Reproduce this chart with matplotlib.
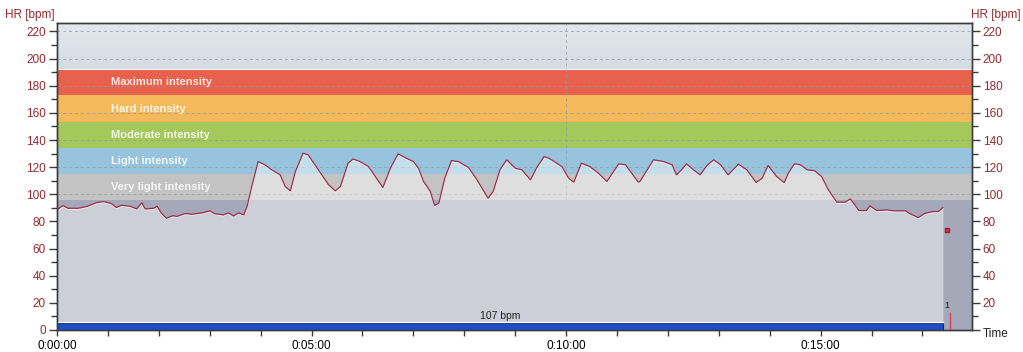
import matplotlib as mpl
import matplotlib.pyplot as plt
import numpy as np
from matplotlib.ticker import FuncFormatter, MultipleLocator


mpl.rcParams.update({
    "font.family": ["Liberation Sans", "DejaVu Sans"],
    "font.size": 8.5,
    "axes.linewidth": 1.0,
})

# heart rate trace (seconds from start, bpm)
TIME_S = [0, 7, 13, 25, 35, 47, 55, 64, 70, 76, 86, 94, 100, 104, 114, 118,
          123, 129, 137, 141, 151, 159, 171, 180, 186, 196, 202, 208, 214, 220,
          224, 230, 237, 245, 253, 263, 269, 275, 281, 290, 296, 308, 320, 328,
          334, 343, 349, 357, 367, 375, 384, 393, 402, 410, 420, 426, 432, 440,
          445, 450, 457, 465, 473, 485, 495, 508, 514, 522, 530, 540, 548, 558,
          565, 574, 581, 595, 603, 609, 618, 628, 638, 648, 662, 670, 685, 687,
          703, 715, 725, 730, 736, 742, 750, 758, 766, 774, 782, 791, 803, 813,
          824, 831, 838, 848, 857, 862, 869, 876, 884, 893, 901, 909, 919, 929,
          935, 945, 954, 958, 966, 978, 986, 1000, 1004, 1015, 1023, 1033, 1039,
          1044]
HR_BPM = [88.5, 91.7, 89.7, 89.7, 91.0, 93.9, 94.6, 93.2, 90.2, 91.9, 91.2,
          89.2, 93.7, 89.2, 89.7, 91.2, 86.0, 82.3, 84.3, 83.6, 85.8, 85.3, 86.3,
          87.8, 85.6, 84.8, 86.3, 84.0, 86.3, 84.8, 91.0, 107.0, 124.1, 121.7,
          118.0, 114.3, 105.7, 102.5, 116.8, 130.3, 129.0, 118.0, 107.0, 102.5,
          105.7, 122.9, 126.0, 124.1, 120.4, 113.1, 105.0, 119.2, 129.8, 127.1,
          124.1, 119.2, 109.4, 102.0, 91.7, 93.4, 111.8, 124.9, 124.1, 119.7,
          110.6, 97.1, 102.0, 118.0, 125.4, 119.2, 118.0, 110.6, 119.2, 127.8,
          126.1, 120.4, 111.8, 108.9, 122.9, 120.4, 115.6, 109.4, 122.4, 121.7,
          108.9, 109.4, 125.4, 124.1, 121.7, 114.3, 118.0, 122.4, 118.0, 114.3,
          121.2, 125.4, 121.7, 114.3, 122.2, 118.0, 108.6, 111.8, 121.2, 113.1,
          108.6, 115.6, 122.4, 121.7, 118.0, 117.3, 113.1, 103.3, 94.2, 94.2,
          96.6, 88.0, 88.0, 91.5, 88.0, 88.5, 87.8, 87.8, 86.0, 82.8, 86.0, 87.3,
          87.3, 90.2]

ZONE_NAMES = ["Very light intensity", "Light intensity", "Moderate intensity",
              "Hard intensity", "Maximum intensity"]
ZONE_LOW = [96.0, 115.2, 134.4, 153.6, 172.8]
ZONE_HIGH = [115.2, 134.4, 153.6, 172.8, 192.0]

AVG_HR = 107
LAP_TIMES = [1052]
LAP_NAMES = ["1"]
LAP_MARK_HR = [74]

T_MAX = 1078
Y_MAX = 226

ZONE_COLORS = ["#c3c3c3", "#97c4dc", "#a5c85c", "#f3b95b", "#e8614d"]
BELOW_ZONES = "#a4a8b9"
HR_RED = "#9a2c48"
TICK_RED = "#922a30"
AXIS_DARK = "#3c3c3c"


def hms(s, _pos=None):
    s = int(round(s))
    return f"{s // 3600}:{s % 3600 // 60:02d}:{s % 60:02d}"


def style_y(axis, side):
    axis.set_ylim(0, Y_MAX)
    axis.yaxis.set_major_locator(MultipleLocator(20))
    axis.yaxis.set_minor_locator(MultipleLocator(10))
    axis.tick_params(axis="y", which="major", direction="out", length=5.5, width=1,
                     color=AXIS_DARK, labelsize=8.5, labelcolor=TICK_RED, pad=2.5)
    axis.tick_params(axis="y", which="minor", direction="out", length=4, width=1,
                     color=AXIS_DARK)
    if side == "right":
        # right side leaves the 0 unlabeled (the "Time" caption sits there)
        axis.yaxis.set_major_formatter(FuncFormatter(lambda v, _p: "" if v == 0 else f"{v:.0f}"))


def make_figure():
    fig = plt.figure(figsize=(10.23, 3.52), dpi=100)
    ax = fig.add_axes([57 / 1023, 22 / 352, 914.7 / 1023, 306.7 / 352])
    ax.set_xlim(0, T_MAX)
    ax.set_ylim(0, Y_MAX)

    # backgrounds: soft gradient above the zones, zone bands, grey below
    grad = np.linspace(0, 1, 64).reshape(-1, 1)
    top_cmap = mpl.colors.LinearSegmentedColormap.from_list("top", ["#d4dce4", "#e3e8ed"])
    ax.imshow(grad, cmap=top_cmap, origin="lower", aspect="auto",
              extent=(0, T_MAX, ZONE_HIGH[-1], Y_MAX), zorder=0)
    ax.axhspan(0, ZONE_LOW[0], color=BELOW_ZONES, lw=0, zorder=0)
    for lo, hi, c in zip(ZONE_LOW, ZONE_HIGH, ZONE_COLORS):
        ax.axhspan(lo, hi, color=c, lw=0, zorder=0)
    ax.axhline(ZONE_HIGH[-1], color="#f4f4f4", lw=0.8, zorder=0.5)

    # dashed grid, only visible over the zone area
    for v in range(100, Y_MAX, 20):
        ax.axhline(v, color="#8f9aa6", lw=0.7, ls=(0, (3, 3)), alpha=0.75, zorder=1)
    ax.vlines(600, ZONE_LOW[0], Y_MAX, color="#8f9aa6", lw=0.7, ls=(0, (3, 3)),
              alpha=0.75, zorder=1)

    for name, lo, hi in zip(ZONE_NAMES, ZONE_LOW, ZONE_HIGH):
        ax.text(64, (lo + hi) / 2, name, ha="left", va="center", fontsize=8,
                fontweight="bold", color="white", alpha=0.85, zorder=2)

    # heart rate area + line
    ax.fill_between(TIME_S, 0, HR_BPM, color="white", alpha=0.45, lw=0, zorder=2)
    ax.plot(TIME_S, np.array(HR_BPM) - 0.6, color="white", lw=1.0, alpha=0.7, zorder=3)
    ax.plot(TIME_S, HR_BPM, color=HR_RED, lw=0.9, zorder=4)

    # average bar along the bottom
    ax.broken_barh([(0, TIME_S[-1])], (0, 4.9), facecolors="#1f4fc2",
                   edgecolors="#0e2a78", lw=0.8, zorder=5)
    ax.plot([0, TIME_S[-1]], [5.6, 5.6], color="white", lw=0.9, zorder=5)
    ax.text(TIME_S[-1] / 2, 6.5, f"{AVG_HR} bpm", ha="center", va="bottom",
            fontsize=7.5, color="#222222", zorder=5)

    # lap markers
    for t, name, hr in zip(LAP_TIMES, LAP_NAMES, LAP_MARK_HR):
        ax.vlines(t, 0, 13, color="#d04050", lw=0.9, zorder=5)
        ax.text(t - 3, 15, name, ha="center", va="bottom", fontsize=6.5, color="#222222")
        ax.plot(t - 3, hr, marker="s", ms=3.5, color="#d8304a", mec="#a02030", zorder=5)

    # axes
    ax.xaxis.set_major_locator(MultipleLocator(300))
    ax.xaxis.set_minor_locator(MultipleLocator(60))
    ax.xaxis.set_major_formatter(FuncFormatter(hms))
    ax.tick_params(axis="x", which="both", direction="out", length=4.5, width=1,
                   color=AXIS_DARK, labelsize=8.5, pad=2.5)
    style_y(ax, "left")

    ax_r = ax.twinx()
    style_y(ax_r, "right")

    for a in (ax, ax_r):
        for sp in a.spines.values():
            sp.set_color(AXIS_DARK)

    fig.text(5 / 1023, 1 - 15 / 352, "HR [bpm]", ha="left", va="center",
             fontsize=8.5, color=TICK_RED)
    fig.text(1021 / 1023, 1 - 15 / 352, "HR [bpm]", ha="right", va="center",
             fontsize=8.5, color=TICK_RED)
    fig.text(983 / 1023, 1 - 334 / 352, "Time", ha="left", va="center",
             fontsize=8.5, color="#222222")

    fig.savefig("out.png", dpi=100)
    plt.close(fig)


if __name__ == "__main__":
    make_figure()
